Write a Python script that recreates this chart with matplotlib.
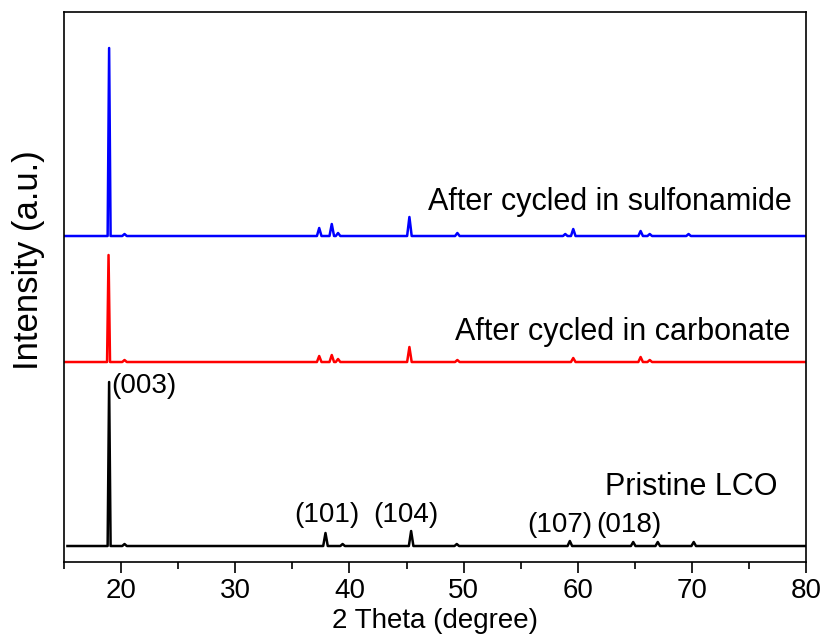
import numpy as np
import matplotlib
matplotlib.use("Agg")
import matplotlib.pyplot as plt
from matplotlib.ticker import MultipleLocator

plt.rcParams['font.family'] = ['Liberation Sans', 'DejaVu Sans']

# peak positions (2 theta) and heights (a.u.)
pristine_pos = [18.95, 20.3, 37.9, 39.4, 45.4, 49.4, 59.3, 64.85, 67.0, 70.15]
pristine_h   = [164,   2,    13,   2,    15,   2,    5,    4,     4,    4]
pristine_start = 15.3

carbonate_pos = [18.9, 20.3, 37.35, 38.45, 39.0, 45.25, 49.45, 59.6, 65.5, 66.3]
carbonate_h   = [107,  2,    6,     7,     3,    15,    2,     4,    5,    2]
carbonate_start = 15.0

sulfon_pos = [18.95, 20.3, 37.35, 38.45, 39.0, 45.25, 49.45, 58.9, 59.6, 65.5, 66.3, 69.7]
sulfon_h   = [188,   2,    8,     12,    3,    19,    3,     2,    7,    5,    2,    2]
sulfon_start = 15.0

offsets = [0, 184, 310]


def trace(start, pos, h, hw=0.13):
    xs, ys = [start], [0.0]
    for p, v in zip(pos, h):
        w = hw if v > 50 else 0.2
        xs += [p - w, p, p + w]
        ys += [0.0, v, 0.0]
    xs.append(80)
    ys.append(0.0)
    return np.array(xs), np.array(ys)


fig = plt.figure(figsize=(8.26, 6.42), dpi=100)
ax = fig.add_axes([0.0775, 0.1246, 0.8985, 0.8567])

x, y = trace(pristine_start, pristine_pos, pristine_h)
ax.plot(x, y + offsets[0], color='black', lw=1.8)
x, y = trace(carbonate_start, carbonate_pos, carbonate_h)
ax.plot(x, y + offsets[1], color='#ff0000', lw=1.8)
x, y = trace(sulfon_start, sulfon_pos, sulfon_h)
ax.plot(x, y + offsets[2], color='#0000ff', lw=1.8)

ax.set_xlim(15, 80)
ax.set_ylim(-16, 534)
ax.xaxis.set_major_locator(MultipleLocator(10))
ax.xaxis.set_minor_locator(MultipleLocator(5))
ax.tick_params(axis='x', which='major', direction='out', length=8, width=1.2, labelsize=20)
ax.tick_params(axis='x', which='minor', direction='out', length=5, width=1.2)
ax.set_yticks([])
for s in ax.spines.values():
    s.set_linewidth(1.2)

ax.set_xlabel('2 Theta (degree)', fontsize=20, labelpad=3)
ax.set_ylabel('Intensity (a.u.)', fontsize=25)
ax.yaxis.set_label_coords(-0.025, 0.548)

ax.text(46.9, 336, 'After cycled in sulfonamide', fontsize=22)
ax.text(49.2, 206, 'After cycled in carbonate', fontsize=22)
ax.text(62.4, 51, 'Pristine LCO', fontsize=22)
ax.text(19.1, 153, '(003)', fontsize=20)
ax.text(35.2, 24, '(101)', fontsize=20)
ax.text(42.1, 24, '(104)', fontsize=20)
ax.text(55.6, 14, '(107)', fontsize=20)
ax.text(61.6, 14, '(018)', fontsize=20)

fig.savefig('out.png', dpi=100)
